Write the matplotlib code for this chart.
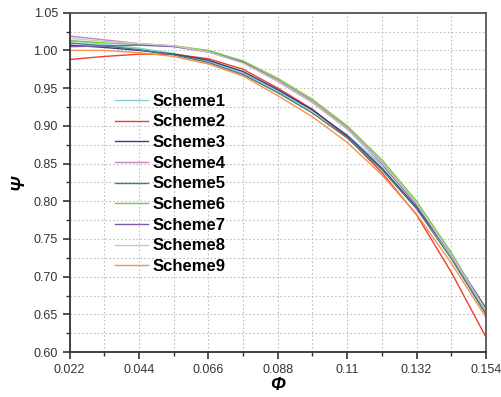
import numpy as np
import matplotlib
matplotlib.use("Agg")
import matplotlib.pyplot as plt
from matplotlib.ticker import MultipleLocator

plt.rcParams['font.family'] = ['Liberation Sans', 'DejaVu Sans']

# flow coefficient (x) and head coefficient (y) for each scheme
phi = [0.022, 0.033, 0.044, 0.055, 0.066, 0.077, 0.088, 0.099, 0.110, 0.121, 0.132, 0.143, 0.154]

scheme1 = [1.013, 1.008, 1.003, 0.996, 0.986, 0.970, 0.946, 0.920, 0.888, 0.848, 0.796, 0.728, 0.652]
scheme2 = [0.988, 0.992, 0.995, 0.995, 0.989, 0.975, 0.950, 0.922, 0.885, 0.838, 0.782, 0.706, 0.620]
scheme3 = [1.007, 1.004, 1.000, 0.995, 0.987, 0.972, 0.948, 0.921, 0.887, 0.844, 0.792, 0.729, 0.658]
scheme4 = [1.019, 1.014, 1.009, 1.006, 0.999, 0.985, 0.961, 0.933, 0.898, 0.852, 0.797, 0.728, 0.652]
scheme5 = [1.010, 1.006, 1.001, 0.994, 0.984, 0.968, 0.944, 0.917, 0.884, 0.842, 0.790, 0.724, 0.650]
scheme6 = [1.013, 1.010, 1.008, 1.006, 1.000, 0.986, 0.963, 0.935, 0.900, 0.855, 0.800, 0.732, 0.654]
scheme7 = [1.005, 1.006, 1.007, 1.005, 0.998, 0.984, 0.959, 0.931, 0.896, 0.850, 0.795, 0.729, 0.656]
scheme8 = [1.016, 1.012, 1.009, 1.006, 0.998, 0.983, 0.959, 0.931, 0.896, 0.851, 0.797, 0.729, 0.655]
scheme9 = [1.000, 1.000, 0.997, 0.992, 0.982, 0.966, 0.940, 0.912, 0.878, 0.835, 0.783, 0.718, 0.646]

names = ['Scheme1', 'Scheme2', 'Scheme3', 'Scheme4', 'Scheme5',
         'Scheme6', 'Scheme7', 'Scheme8', 'Scheme9']
series = [scheme1, scheme2, scheme3, scheme4, scheme5,
          scheme6, scheme7, scheme8, scheme9]
colors = ['#86cdd6', '#f0402c', '#3e3c7c', '#c284c4', '#3f8078',
          '#7ccb3e', '#7c5cab', '#c9c9c4', '#f8924e']

xticks = [0.022, 0.044, 0.066, 0.088, 0.110, 0.132, 0.154]
xticklabels = ['0.022', '0.044', '0.066', '0.088', '0.11', '0.132', '0.154']
yticks = [0.60, 0.65, 0.70, 0.75, 0.80, 0.85, 0.90, 0.95, 1.00, 1.05]

fig = plt.figure(figsize=(5.01, 3.97), dpi=100)
ax = fig.add_axes([0.139, 0.113, 0.831, 0.855])

for vals, name, c in zip(series, names, colors):
    ax.plot(phi, vals, color=c, lw=1.0, label=name)

ax.set_xlim(0.022, 0.154)
ax.set_ylim(0.60, 1.05)
ax.set_xticks(xticks)
ax.set_xticklabels(xticklabels)
ax.set_yticks(yticks)
ax.set_yticklabels(['%.2f' % v for v in yticks])
ax.xaxis.set_minor_locator(MultipleLocator(0.011))
ax.yaxis.set_minor_locator(MultipleLocator(0.025))

# dotted grid on both major and minor ticks
ax.grid(True, which='both', color='#c0c0c0', linestyle=(0, (1.5, 2)), lw=0.8)
ax.tick_params(which='major', direction='out', length=5, width=1.2,
               labelsize=9, colors='#333333', top=False, right=False)
ax.tick_params(which='minor', direction='out', length=3, width=1.0,
               colors='#333333', top=False, right=False)
for s in ['left', 'bottom']:
    ax.spines[s].set_color('#333333')
    ax.spines[s].set_linewidth(1.3)
for s in ['top', 'right']:
    ax.spines[s].set_color('#555555')
    ax.spines[s].set_linewidth(1.3)

ax.set_xlabel('Φ', fontsize=13, fontweight='bold', fontstyle='italic', labelpad=1)
ax.set_ylabel('Ψ', fontsize=13, fontweight='bold', fontstyle='italic', labelpad=4)

leg = ax.legend(loc='upper left', bbox_to_anchor=(0.088, 0.786), frameon=False,
                prop={'weight': 'bold', 'size': 12}, handlelength=2.0,
                handletextpad=0.3, labelspacing=0.34, borderpad=0)

fig.savefig('out.png', dpi=100)
